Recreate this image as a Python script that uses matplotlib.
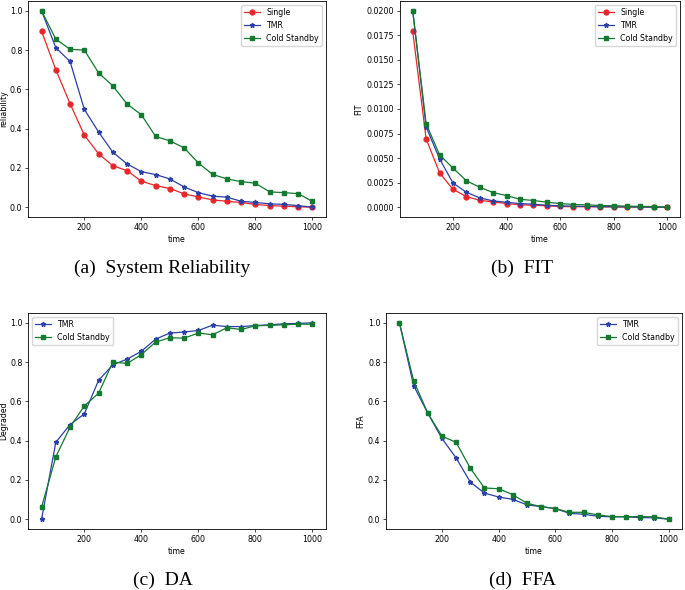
import numpy as np
import matplotlib
matplotlib.use('Agg')
import matplotlib.pyplot as plt

# time axis shared by all four panels
time = [50, 100, 150, 200, 250, 300, 350, 400, 450, 500,
        550, 600, 650, 700, 750, 800, 850, 900, 950, 1000]

# (a) system reliability
rel_single = [0.896, 0.700, 0.527, 0.367, 0.272, 0.211, 0.186, 0.132, 0.110, 0.095,
              0.068, 0.052, 0.037, 0.030, 0.024, 0.014, 0.008, 0.005, 0.002, 0.000]
rel_tmr = [1.000, 0.812, 0.742, 0.498, 0.383, 0.280, 0.220, 0.181, 0.166, 0.144,
           0.103, 0.074, 0.056, 0.051, 0.030, 0.024, 0.017, 0.014, 0.008, 0.000]
rel_cold = [1.000, 0.856, 0.804, 0.800, 0.684, 0.618, 0.525, 0.471, 0.360, 0.338,
            0.302, 0.225, 0.167, 0.144, 0.130, 0.122, 0.078, 0.074, 0.069, 0.029]

# (b) FIT
fit_single = [0.0179, 0.00696, 0.00351, 0.00182, 0.00108, 0.00070, 0.00054, 0.00037, 0.00024, 0.00020,
              0.00014, 0.00007, 0.00005, 0.00004, 0.00003, 0.00002, 0.00001, 0.00001, 0.000005, 0.0]
fit_tmr = [0.0200, 0.00818, 0.00493, 0.00247, 0.00152, 0.00095, 0.00064, 0.00050, 0.00037, 0.00030,
           0.00020, 0.00014, 0.00010, 0.00008, 0.00006, 0.00005, 0.00003, 0.00002, 0.00001, 0.0]
fit_cold = [0.0200, 0.00851, 0.00534, 0.00399, 0.00270, 0.00203, 0.00149, 0.00118, 0.00081, 0.00068,
            0.00051, 0.00037, 0.00027, 0.00024, 0.00017, 0.00015, 0.00010, 0.00008, 0.00006, 0.0]

# (c) degraded availability
da_tmr = [0.000, 0.391, 0.482, 0.536, 0.707, 0.786, 0.815, 0.855, 0.917, 0.948,
          0.953, 0.961, 0.988, 0.981, 0.981, 0.986, 0.990, 0.995, 0.997, 1.000]
da_cold = [0.061, 0.317, 0.469, 0.577, 0.641, 0.800, 0.793, 0.838, 0.902, 0.924,
           0.922, 0.948, 0.939, 0.975, 0.966, 0.985, 0.987, 0.990, 0.993, 0.993]

# (d) FFA
ffa_tmr = [1.000, 0.680, 0.540, 0.411, 0.312, 0.189, 0.133, 0.113, 0.101, 0.073,
           0.064, 0.054, 0.030, 0.025, 0.015, 0.012, 0.012, 0.008, 0.007, 0.000]
ffa_cold = [1.000, 0.705, 0.540, 0.423, 0.391, 0.260, 0.159, 0.155, 0.125, 0.081,
            0.064, 0.054, 0.035, 0.035, 0.022, 0.013, 0.013, 0.013, 0.012, 0.000]

captions = ['(a)  System Reliability', '(b)  FIT', '(c)  DA', '(d)  FFA']

plt.rcParams['font.size'] = 5.7
plt.rcParams['axes.linewidth'] = 0.6
plt.rcParams['xtick.major.size'] = 2
plt.rcParams['ytick.major.size'] = 2
plt.rcParams['xtick.major.width'] = 0.5
plt.rcParams['ytick.major.width'] = 0.5
plt.rcParams['xtick.major.pad'] = 2
plt.rcParams['ytick.major.pad'] = 2
plt.rcParams['axes.labelpad'] = 2.3

RED = '#e8262a'
BLUE = '#2a40a8'
GREEN = '#137a30'

W, H = 685, 590
fig = plt.figure(figsize=(W / 100, H / 100), dpi=100)


def px_axes(left, top, right, bottom):
    return fig.add_axes([left / W, 1 - bottom / H, (right - left) / W, (bottom - top) / H])


lw, ms = 0.9, 3.5

ax_a = px_axes(28, 1, 326, 217)
ax_a.plot(time, rel_single, '-o', color=RED, lw=lw, ms=ms, label='Single')
ax_a.plot(time, rel_tmr, '-*', color=BLUE, lw=lw, ms=ms, label='TMR')
ax_a.plot(time, rel_cold, '-s', color=GREEN, lw=lw, ms=ms, label='Cold Standby')
ax_a.set_xlabel('time')
ax_a.set_ylabel('reliability', labelpad=1.2)
ax_a.legend(loc='upper right')

ax_b = px_axes(400, 1, 680, 217)
ax_b.plot(time, fit_single, '-o', color=RED, lw=lw, ms=ms, label='Single')
ax_b.plot(time, fit_tmr, '-*', color=BLUE, lw=lw, ms=ms, label='TMR')
ax_b.plot(time, fit_cold, '-s', color=GREEN, lw=lw, ms=ms, label='Cold Standby')
ax_b.set_xlabel('time')
ax_b.set_ylabel('FIT')
ax_b.set_yticks(np.arange(0, 0.0201, 0.0025))
ax_b.yaxis.set_major_formatter(matplotlib.ticker.FormatStrFormatter('%.4f'))
ax_b.legend(loc='upper right')

ax_c = px_axes(28, 313, 326, 529)
ax_c.plot(time, da_tmr, '-*', color=BLUE, lw=lw, ms=ms, label='TMR')
ax_c.plot(time, da_cold, '-s', color=GREEN, lw=lw, ms=ms, label='Cold Standby')
ax_c.set_xlabel('time')
ax_c.set_ylabel('Degraded', labelpad=1.2)
ax_c.legend(loc='upper left')

ax_d = px_axes(386, 313, 682, 529)
ax_d.plot(time, ffa_tmr, '-*', color=BLUE, lw=lw, ms=ms, label='TMR')
ax_d.plot(time, ffa_cold, '-s', color=GREEN, lw=lw, ms=ms, label='Cold Standby')
ax_d.set_xlabel('time')
ax_d.set_ylabel('FFA')
ax_d.legend(loc='upper right')

# subfigure captions
cap_pos = [(162, 268), (522, 268), (163, 580), (523, 580)]
for (cx, cy), text in zip(cap_pos, captions):
    fig.text(cx / W, 1 - cy / H, text, ha='center', va='center',
             family='Liberation Serif', fontsize=14)

fig.savefig('out.png', dpi=100)
